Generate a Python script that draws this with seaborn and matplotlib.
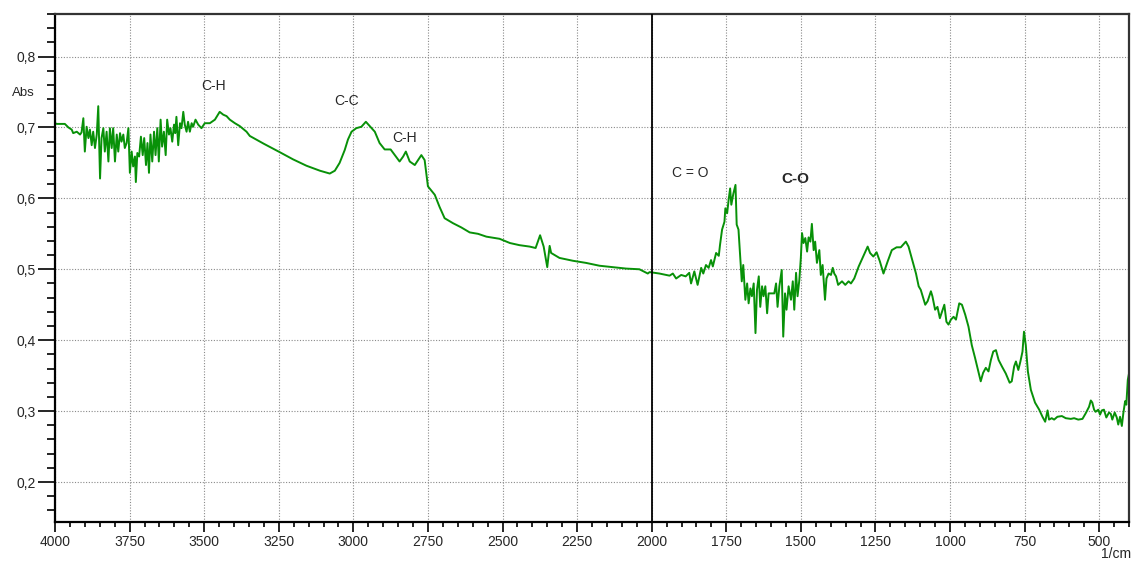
import matplotlib
matplotlib.use("Agg")
import matplotlib.pyplot as plt
from matplotlib.ticker import MultipleLocator, FuncFormatter
import pandas as pd
import seaborn as sns

# FTIR absorbance spectrum, (wavenumber in 1/cm, absorbance) pairs, high to low wavenumber
region_oh = [
    (4000, 0.706), (3994, 0.705), (3967, 0.705), (3955, 0.700), (3944, 0.697), (3939, 0.692),
    (3927, 0.694), (3916, 0.690), (3911, 0.693), (3905, 0.713), (3900, 0.666), (3894, 0.701),
    (3888, 0.685), (3883, 0.697), (3877, 0.675), (3872, 0.694), (3866, 0.671), (3860, 0.690),
    (3855, 0.730), (3849, 0.628), (3844, 0.685), (3838, 0.699), (3833, 0.666), (3827, 0.694),
    (3821, 0.652), (3816, 0.699), (3810, 0.671), (3805, 0.699), (3799, 0.652), (3793, 0.690),
    (3788, 0.666), (3782, 0.692), (3777, 0.680), (3771, 0.690), (3766, 0.671), (3760, 0.678),
    (3754, 0.699), (3749, 0.636), (3743, 0.666), (3738, 0.645), (3732, 0.659), (3729, 0.623),
    (3724, 0.664), (3718, 0.659), (3712, 0.687), (3706, 0.661), (3701, 0.685), (3695, 0.647),
    (3690, 0.678), (3685, 0.636), (3680, 0.690), (3674, 0.652), (3668, 0.694), (3663, 0.661),
    (3657, 0.699), (3652, 0.652), (3646, 0.711), (3641, 0.673), (3635, 0.694), (3629, 0.661),
    (3624, 0.711), (3618, 0.690), (3613, 0.699), (3607, 0.680), (3601, 0.704), (3597, 0.692),
    (3593, 0.715), (3587, 0.675), (3581, 0.706), (3576, 0.699), (3570, 0.722), (3565, 0.704),
    (3559, 0.694), (3554, 0.708), (3548, 0.694), (3542, 0.706), (3537, 0.701), (3529, 0.711),
    (3520, 0.704), (3509, 0.699), (3498, 0.706), (3481, 0.706), (3464, 0.711), (3448, 0.722),
    (3436, 0.718), (3425, 0.716), (3414, 0.711), (3397, 0.706), (3381, 0.702), (3358, 0.694),
    (3347, 0.688),
]

region_ch = [
    (3300, 0.677), (3246, 0.665), (3202, 0.655), (3157, 0.646), (3112, 0.639), (3079, 0.635),
    (3062, 0.639), (3046, 0.650), (3029, 0.668), (3018, 0.683), (3006, 0.694), (2990, 0.699),
    (2973, 0.701), (2958, 0.708), (2945, 0.702), (2928, 0.694), (2912, 0.678), (2895, 0.669),
    (2875, 0.669), (2861, 0.661), (2845, 0.652), (2833, 0.659), (2824, 0.666), (2811, 0.652),
    (2794, 0.647), (2783, 0.654), (2772, 0.661), (2761, 0.654), (2750, 0.617), (2727, 0.605),
    (2711, 0.588), (2694, 0.572), (2666, 0.565), (2638, 0.559), (2610, 0.552), (2582, 0.550),
]

region_baseline = [
    (2554, 0.546), (2510, 0.543), (2475, 0.537), (2443, 0.534), (2409, 0.532), (2389, 0.530),
    (2374, 0.548), (2362, 0.532), (2350, 0.503), (2342, 0.533), (2337, 0.523), (2309, 0.516),
    (2264, 0.512), (2220, 0.509), (2175, 0.505), (2130, 0.503), (2086, 0.501), (2041, 0.500),
    (2013, 0.494), (2007, 0.496),
]

region_carbonyl = [
    (1974, 0.494), (1940, 0.491), (1929, 0.494), (1918, 0.487), (1901, 0.492), (1886, 0.490),
    (1874, 0.495), (1868, 0.480), (1857, 0.497), (1846, 0.478), (1834, 0.502), (1827, 0.494),
    (1818, 0.506), (1809, 0.502), (1801, 0.513), (1795, 0.504), (1784, 0.523), (1775, 0.519),
    (1771, 0.534), (1764, 0.556), (1756, 0.567), (1753, 0.586), (1747, 0.579), (1742, 0.598),
    (1737, 0.614), (1733, 0.591), (1726, 0.607), (1719, 0.619), (1715, 0.563), (1709, 0.556),
    (1704, 0.523), (1698, 0.483), (1693, 0.506), (1686, 0.457), (1680, 0.480), (1675, 0.452),
    (1669, 0.473), (1664, 0.462), (1658, 0.480), (1652, 0.410), (1647, 0.471), (1641, 0.490),
    (1636, 0.447), (1630, 0.476), (1625, 0.462), (1619, 0.476), (1613, 0.438), (1608, 0.466),
    (1600, 0.466), (1589, 0.466), (1583, 0.480), (1578, 0.447), (1572, 0.476), (1564, 0.499),
    (1559, 0.405), (1553, 0.466), (1548, 0.443), (1541, 0.476), (1533, 0.457), (1527, 0.483),
    (1522, 0.443), (1516, 0.495), (1511, 0.462), (1505, 0.485), (1500, 0.516), (1496, 0.551),
    (1491, 0.537), (1485, 0.544), (1479, 0.525), (1474, 0.545), (1468, 0.539), (1463, 0.564),
    (1457, 0.527), (1452, 0.539), (1446, 0.509), (1438, 0.527), (1433, 0.492), (1427, 0.506),
    (1419, 0.457), (1414, 0.487), (1407, 0.494), (1399, 0.492), (1393, 0.502), (1388, 0.494),
    (1382, 0.490), (1375, 0.478),
]

region_fingerprint = [
    (1362, 0.483), (1351, 0.478), (1340, 0.483), (1332, 0.480), (1321, 0.487), (1306, 0.504),
    (1293, 0.516), (1276, 0.532), (1268, 0.523), (1257, 0.518), (1246, 0.524), (1235, 0.511),
    (1223, 0.494), (1209, 0.511), (1195, 0.527), (1179, 0.531), (1165, 0.531), (1148, 0.539),
    (1139, 0.532), (1125, 0.511), (1114, 0.494), (1105, 0.476), (1098, 0.471), (1083, 0.450),
    (1075, 0.455), (1064, 0.469), (1059, 0.462), (1050, 0.443), (1042, 0.447), (1034, 0.431),
    (1027, 0.440), (1019, 0.450), (1012, 0.426), (1005, 0.422), (997, 0.429), (988, 0.433),
    (980, 0.429), (969, 0.452), (960, 0.450), (949, 0.436), (938, 0.419), (927, 0.393),
    (916, 0.375), (904, 0.354), (897, 0.342), (889, 0.354), (880, 0.361), (871, 0.356),
    (863, 0.372), (855, 0.384), (846, 0.386), (837, 0.372), (826, 0.363), (813, 0.353),
    (800, 0.340), (793, 0.342), (785, 0.363), (779, 0.370), (771, 0.358), (764, 0.370),
    (757, 0.384), (752, 0.412), (746, 0.393), (739, 0.356), (729, 0.330), (715, 0.312),
    (701, 0.302), (690, 0.292), (681, 0.285), (673, 0.301), (668, 0.288), (659, 0.290),
    (651, 0.288), (640, 0.292), (625, 0.293), (612, 0.290), (595, 0.289), (584, 0.290),
    (570, 0.288), (556, 0.289), (545, 0.297), (534, 0.306), (528, 0.315), (523, 0.312),
    (517, 0.302), (512, 0.299), (503, 0.302), (497, 0.295), (491, 0.301), (484, 0.302),
    (476, 0.291), (467, 0.298), (461, 0.296), (456, 0.288), (448, 0.298), (441, 0.291),
    (436, 0.281), (430, 0.292), (424, 0.279), (419, 0.297), (413, 0.314), (409, 0.309),
    (404, 0.344), (400, 0.353),
]

# Band assignments: (label, wavenumber, absorbance, bold)
band_labels = [
    ("C-H", 3467, 0.758, False),
    ("C-C", 3022, 0.7375, False),
    ("C-H", 2829, 0.685, False),
    ("C = O", 1870, 0.636, False),
    ("C-O", 1518, 0.628, True),
]

x_range = (4000, 400)
y_range = (0.1436, 0.860)

sns.set_style("white")
plt.rcParams["font.family"] = ["Liberation Sans", "DejaVu Sans"]

spectrum = pd.DataFrame(
    region_oh + region_ch + region_baseline + region_carbonyl + region_fingerprint,
    columns=["wavenumber", "absorbance"],
)

W, H = 1131, 561
fig = plt.figure(figsize=(W / 100, H / 100), dpi=100)
ax = fig.add_axes([55 / W, 1 - 522 / H, (1129 - 55) / W, (522 - 14) / H])

sns.lineplot(
    data=spectrum, x="wavenumber", y="absorbance", ax=ax,
    color="#089108", linewidth=1.4, sort=False, estimator=None,
)

ax.set_xlim(*x_range)
ax.set_ylim(*y_range)
ax.set_xlabel("")
ax.set_ylabel("")

ax.xaxis.set_major_locator(MultipleLocator(250))
ax.xaxis.set_minor_locator(MultipleLocator(50))
ax.yaxis.set_major_locator(MultipleLocator(0.1))
ax.yaxis.set_minor_locator(MultipleLocator(0.02))
ax.xaxis.set_major_formatter(FuncFormatter(lambda v, p: f"{int(round(v))}"))
ax.yaxis.set_major_formatter(FuncFormatter(lambda v, p: f"{v:.1f}".replace(".", ",")))

ax.grid(which="major", linestyle=(0, (1, 1.5)), color="#8a8a8a", linewidth=0.8)
ax.axvline(2000, color="black", linewidth=1.3, zorder=3)

ax.tick_params(axis="y", which="major", direction="out", length=12.5, width=1.2,
               labelsize=10, pad=1.5, color="black", left=True)
ax.tick_params(axis="y", which="minor", direction="out", length=6, width=1.2,
               color="black", left=True)
ax.tick_params(axis="x", which="major", direction="out", length=7.2, width=1.2,
               labelsize=10, pad=2, color="black", bottom=True)
ax.tick_params(axis="x", which="minor", direction="out", length=3.6, width=1.2,
               color="black", bottom=True)

for side in ("left", "bottom"):
    ax.spines[side].set_color("black")
    ax.spines[side].set_linewidth(1.6)
for side in ("top", "right"):
    ax.spines[side].set_color("#333333")
    ax.spines[side].set_linewidth(1.6)

for text, wn, ab, bold in band_labels:
    ax.text(wn, ab, text, ha="center", va="center",
            fontsize=11 if bold else 10, fontweight="bold" if bold else "normal")

fig.text(23 / W, 1 - 93 / H, "Abs", ha="center", va="center", fontsize=9.5)
fig.text(1131 / W, 1 - 554 / H, "1/cm", ha="right", va="center", fontsize=10)

fig.savefig("out.png", dpi=100)
